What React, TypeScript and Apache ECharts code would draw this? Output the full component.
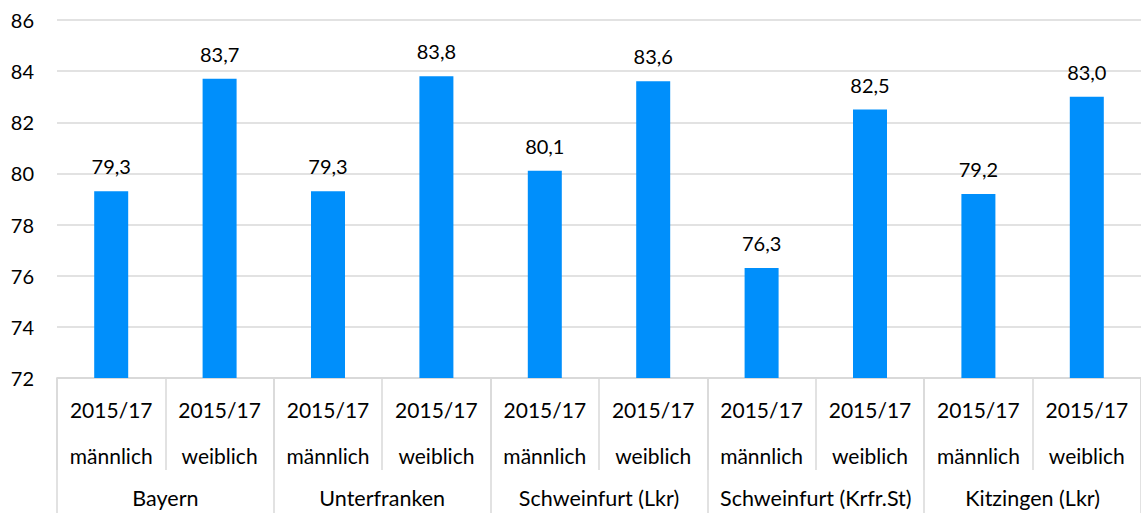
import React, { useEffect, useRef } from "react";
import * as echarts from "echarts";

const regions = ["Bayern", "Unterfranken", "Schweinfurt (Lkr)", "Schweinfurt (Krfr.St)", "Kitzingen (Lkr)"];
const sexes = ["männlich", "weiblich"];
const period = "2015/17";
const values = [79.3, 83.7, 79.3, 83.8, 80.1, 83.6, 76.3, 82.5, 79.2, 83.0];
const yTicks = { min: 72, max: 86, interval: 2 };

const FONT = "Lato, 'Noto Sans', sans-serif";
const GRAY = "#d9d9d9";

export default function App() {
  const ref = useRef<HTMLDivElement>(null);
  useEffect(() => {
    if (!ref.current) return;
    const chart = echarts.init(ref.current, undefined, { renderer: "svg" });
    const cats: string[] = [];
    regions.forEach((r) => sexes.forEach((s) => cats.push(period + "\n" + s)));
    chart.setOption({
      animation: false,
      textStyle: { fontFamily: FONT },
      grid: { left: 57, right: 0, top: 20, bottom: 135, containLabel: false },
      xAxis: [
        {
          type: "category",
          data: cats,
          position: "bottom",
          axisLine: { show: true, lineStyle: { color: GRAY, width: 1.5 } },
          axisTick: { show: true, interval: 0, length: 92, lineStyle: { color: GRAY, width: 1.5 } },
          axisLabel: {
            interval: 0,
            margin: 8,
            color: "#000",
            fontSize: 21,
            fontFamily: FONT,
            lineHeight: 46,
          },
        },
        {
          type: "category",
          data: regions,
          position: "bottom",
          axisLine: { show: true, lineStyle: { color: GRAY, width: 1.5 } },
          axisTick: { show: true, interval: 0, length: 135, lineStyle: { color: GRAY, width: 1.5 } },
          axisLabel: {
            interval: 0,
            margin: 109,
            color: "#000",
            fontSize: 21.5,
            fontFamily: FONT,
            lineHeight: 22,
          },
        },
      ],
      yAxis: {
        type: "value",
        min: yTicks.min,
        max: yTicks.max,
        interval: yTicks.interval,
        axisLine: { show: false },
        axisTick: { show: false },
        splitLine: { lineStyle: { color: GRAY, width: 1.5 } },
        axisLabel: { color: "#000", fontSize: 20, fontFamily: FONT, margin: 23 },
      },
      series: [
        {
          type: "bar",
          xAxisIndex: 0,
          data: values,
          barWidth: 34,
          itemStyle: { color: "#008FFB" },
          label: {
            show: true,
            position: "top",
            distance: 15,
            color: "#000",
            fontSize: 20,
            fontFamily: FONT,
            formatter: (p: any) => Number(p.value).toFixed(1).replace(".", ","),
          },
        },
      ],
    });
    return () => chart.dispose();
  }, []);
  return (
    <div
      ref={ref}
      style={{ position: "fixed", left: 0, top: 0, width: 1141, height: 513, background: "#fff" }}
    />
  );
}
